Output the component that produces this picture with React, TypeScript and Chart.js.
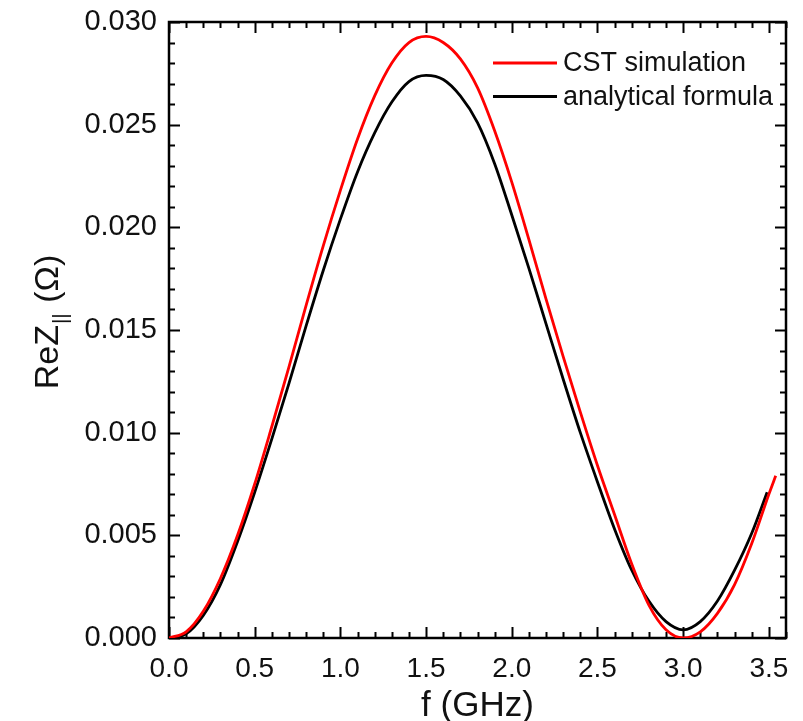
import React, { useEffect, useRef } from 'react';
import { Chart, registerables } from 'chart.js';

Chart.register(...registerables);

// CST simulation (red)
const freqCST = [0.0, 0.1, 0.2, 0.3, 0.4, 0.5, 0.6, 0.7, 0.8, 0.9, 1.0, 1.1, 1.2, 1.3, 1.4, 1.5, 1.6, 1.7, 1.8, 1.9, 2.0, 2.1, 2.2, 2.3, 2.4, 2.5, 2.6, 2.7, 2.8, 2.9, 3.0, 3.1, 3.2, 3.3, 3.4, 3.5, 3.54];
const reZCST = [0.0, 0.0003, 0.0013, 0.0029, 0.005, 0.0075, 0.0103, 0.0132, 0.0162, 0.0191, 0.0218, 0.0243, 0.0264, 0.028, 0.029, 0.0293, 0.029, 0.0282, 0.0268, 0.0247, 0.0222, 0.0194, 0.0165, 0.0137, 0.011, 0.0084, 0.006, 0.0036, 0.0016, 0.0004, 0.0, 0.0003, 0.0012, 0.0026, 0.0046, 0.007, 0.0079];

// analytical formula (black)
const freqAna = [0.0, 0.1, 0.2, 0.3, 0.4, 0.5, 0.6, 0.7, 0.8, 0.9, 1.0, 1.1, 1.2, 1.3, 1.4, 1.5, 1.6, 1.7, 1.8, 1.9, 2.0, 2.1, 2.2, 2.3, 2.4, 2.5, 2.6, 2.7, 2.8, 2.9, 3.0, 3.1, 3.2, 3.3, 3.4, 3.49];
const reZAna = [0.0, 0.0002, 0.0011, 0.0026, 0.0047, 0.0071, 0.0097, 0.0124, 0.0152, 0.0179, 0.0204, 0.0227, 0.0246, 0.0261, 0.0271, 0.0274, 0.0272, 0.0264, 0.0251, 0.0231, 0.0206, 0.018, 0.0153, 0.0126, 0.01, 0.0076, 0.0053, 0.0033, 0.0018, 0.0008, 0.0004, 0.0008, 0.0018, 0.0033, 0.0051, 0.0071];

const xTickValues = [0, 0.5, 1.0, 1.5, 2.0, 2.5, 3.0, 3.5];
const yTickValues = [0, 0.005, 0.01, 0.015, 0.02, 0.025, 0.03];
const xMinorStep = 0.1;
const yMinorStep = 0.001;
const xMin = 0;
const xMax = 3.6;
const yMin = 0;
const yMax = 0.03;

const seriesNames = ['CST simulation', 'analytical formula'];
const seriesColors = ['#ff0000', '#000000'];

const FONT = '"Liberation Sans", Arial, sans-serif';
const TEXT = '#111111';

const framePlugin = {
  id: 'framePlugin',
  beforeDatasetsDraw(chart: any) {
    const { ctx, chartArea: a, scales } = chart;
    const xs = scales.x;
    const ys = scales.y;
    ctx.save();
    ctx.strokeStyle = '#000';
    ctx.lineCap = 'butt';
    const drawX = (v: number, len: number) => {
      const px = Math.round(xs.getPixelForValue(v)) + 0.5;
      ctx.beginPath();
      ctx.moveTo(px, a.bottom);
      ctx.lineTo(px, a.bottom - len);
      ctx.moveTo(px, a.top);
      ctx.lineTo(px, a.top + len);
      ctx.stroke();
    };
    const drawY = (v: number, len: number) => {
      const py = Math.round(ys.getPixelForValue(v)) + 0.5;
      ctx.beginPath();
      ctx.moveTo(a.left, py);
      ctx.lineTo(a.left + len, py);
      ctx.moveTo(a.right, py);
      ctx.lineTo(a.right - len, py);
      ctx.stroke();
    };
    ctx.lineWidth = 2;
    const nx = Math.round((xMax - xMin) / xMinorStep);
    for (let i = 0; i <= nx; i++) {
      const v = xMin + i * xMinorStep;
      const major = xTickValues.some((t) => Math.abs(t - v) < 1e-9);
      drawX(v, major ? 11 : 6);
    }
    const ny = Math.round((yMax - yMin) / yMinorStep);
    for (let i = 0; i <= ny; i++) {
      const v = yMin + i * yMinorStep;
      const major = yTickValues.some((t) => Math.abs(t - v) < 1e-9);
      drawY(v, major ? 11 : 6);
    }
    ctx.lineWidth = 2.5;
    ctx.strokeRect(a.left, a.top, a.right - a.left, a.bottom - a.top);
    ctx.restore();
  },
  afterDraw(chart: any) {
    const { ctx, chartArea: a } = chart;
    ctx.save();
    // legend
    ctx.font = `27px ${FONT}`;
    ctx.textBaseline = 'middle';
    ctx.textAlign = 'left';
    const rows = [a.top + 41, a.top + 74.5];
    seriesNames.forEach((name, i) => {
      const y = rows[i];
      ctx.strokeStyle = seriesColors[i];
      ctx.lineWidth = 3;
      ctx.beginPath();
      ctx.moveTo(a.right - 293, y);
      ctx.lineTo(a.right - 229, y);
      ctx.stroke();
      ctx.fillStyle = TEXT;
      ctx.fillText(name, a.right - 223, y + 1);
    });
    // x title
    ctx.font = `35px ${FONT}`;
    ctx.textAlign = 'center';
    ctx.textBaseline = 'alphabetic';
    ctx.fillText('f (GHz)', (a.left + a.right) / 2, 716);
    // y title with subscript
    ctx.save();
    ctx.translate(58, 322);
    ctx.rotate(-Math.PI / 2);
    const main = 'ReZ';
    const sub = '||';
    const tail = ' (Ω)';
    ctx.font = `34px ${FONT}`;
    const wMain = ctx.measureText(main).width;
    const wTail = ctx.measureText(tail).width;
    ctx.font = `21px ${FONT}`;
    const wSub = ctx.measureText(sub).width;
    const total = wMain + wSub + wTail + 2;
    let x = -total / 2;
    ctx.textAlign = 'left';
    ctx.font = `34px ${FONT}`;
    ctx.fillText(main, x, 0);
    x += wMain + 1;
    ctx.font = `21px ${FONT}`;
    ctx.fillText(sub, x, 9);
    x += wSub + 1;
    ctx.font = `34px ${FONT}`;
    ctx.fillText(tail, x, 0);
    ctx.restore();
    ctx.restore();
  },
};

export default function App() {
  const ref = useRef<HTMLCanvasElement | null>(null);
  useEffect(() => {
    if (!ref.current) return;
    const chart = new Chart(ref.current, {
      type: 'line',
      data: {
        datasets: [
          {
            label: seriesNames[0],
            data: freqCST.map((f, i) => ({ x: f, y: reZCST[i] })),
            borderColor: seriesColors[0],
            borderWidth: 2.8,
            pointRadius: 0,
            cubicInterpolationMode: 'monotone',
            fill: false,
          },
          {
            label: seriesNames[1],
            data: freqAna.map((f, i) => ({ x: f, y: reZAna[i] })),
            borderColor: seriesColors[1],
            borderWidth: 2.8,
            pointRadius: 0,
            cubicInterpolationMode: 'monotone',
            fill: false,
          },
        ],
      },
      options: {
        animation: false,
        responsive: false,
        maintainAspectRatio: false,
        layout: { padding: { top: 22, right: 17, left: 0, bottom: 0 } },
        plugins: { legend: { display: false }, tooltip: { enabled: false } },
        scales: {
          x: {
            type: 'linear',
            min: xMin,
            max: xMax,
            grid: { display: false, drawTicks: false },
            border: { display: false },
            afterBuildTicks: (s: any) => {
              s.ticks = xTickValues.map((v) => ({ value: v }));
            },
            afterFit: (s: any) => {
              s.height = 83;
              s.paddingLeft = 0;
              s.paddingRight = 0;
            },
            ticks: {
              autoSkip: false,
              maxRotation: 0,
              padding: 14,
              color: TEXT,
              font: { size: 28, family: FONT },
              callback: (v: any) => Number(v).toFixed(1),
            },
          },
          y: {
            type: 'linear',
            min: yMin,
            max: yMax,
            grid: { display: false, drawTicks: false },
            border: { display: false },
            afterBuildTicks: (s: any) => {
              s.ticks = yTickValues.map((v) => ({ value: v }));
            },
            afterFit: (s: any) => {
              s.width = 169;
              s.paddingTop = 0;
              s.paddingBottom = 0;
            },
            ticks: {
              autoSkip: false,
              padding: 12,
              color: TEXT,
              font: { size: 29, family: FONT },
              callback: (v: any) => Number(v).toFixed(3),
            },
          },
        },
      },
      plugins: [framePlugin],
    });
    return () => chart.destroy();
  }, []);
  return (
    <div style={{ position: 'fixed', left: 0, top: 0, width: 803, height: 721, background: '#fff' }}>
      <canvas ref={ref} width={803} height={721} style={{ display: 'block', width: 803, height: 721 }} />
    </div>
  );
}
